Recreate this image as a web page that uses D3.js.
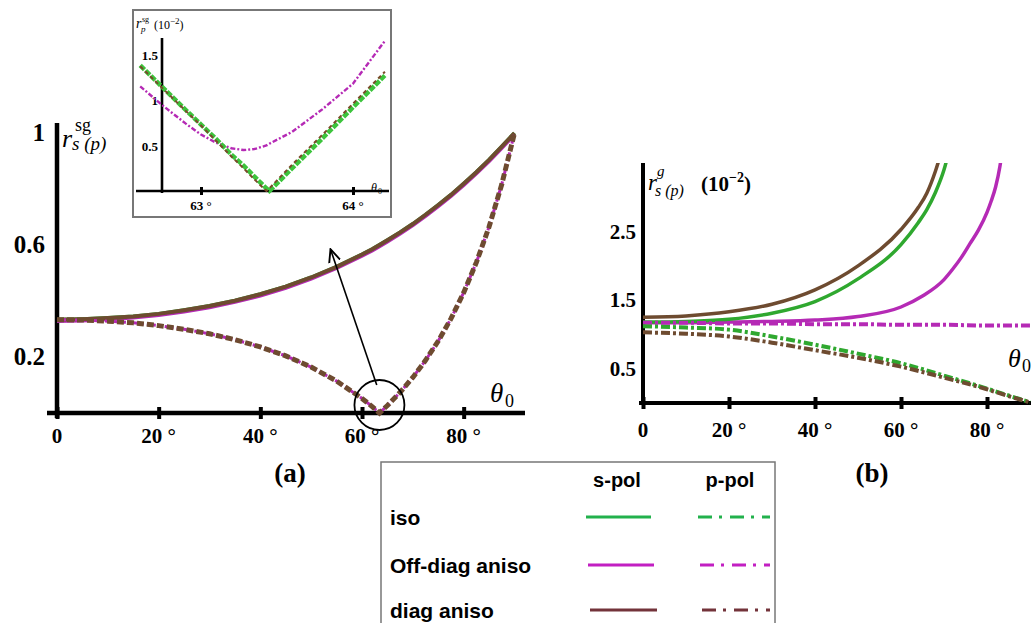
<!DOCTYPE html>
<html>
<head>
<meta charset="utf-8">
<script src="https://cdn.jsdelivr.net/npm/d3@7"></script>
<style>body{margin:0;background:#fff}</style>
</head>
<body>
<svg width="1034" height="623"></svg>
<script>
// panel (a): reflection amplitude vs incidence angle
const thetaA = [0,5,10,15,20,25,30,35,40,45,50,55,60,62,63.43,65,67.5,70,72.5,75,77.5,80,82.5,85,87.5,90];
const rsA = [0.333,0.335,0.339,0.345,0.354,0.367,0.382,0.401,0.424,0.451,0.484,0.522,0.566,0.585,0.600,0.617,0.645,0.675,0.708,0.743,0.779,0.819,0.860,0.904,0.951,1.0];
const rpA = [0.333,0.332,0.328,0.322,0.312,0.299,0.283,0.262,0.236,0.204,0.164,0.114,0.052,0.023,0.0,0.027,0.074,0.127,0.188,0.257,0.337,0.430,0.538,0.665,0.817,1.0];
const xTicksA = [0,20,40,60,80];
const yTicksA = [0.2,0.6,1];

// inset: r_p near the Brewster angle (10^-2)
const thetaIn = [62.6,62.74,62.9,63.0,63.1,63.2,63.28,63.35,63.43,63.45,63.6,63.8,64.0,64.21];
const isoIn  = [1.38,1.15,0.89,0.73,0.57,0.40,0.28,0.16,0.03,0.0,0.25,0.58,0.92,1.27];
const diagIn = [1.37,1.14,0.88,0.72,0.55,0.38,0.25,0.13,0.0,0.03,0.29,0.62,0.96,1.31];
const offIn  = [1.15,0.95,0.74,0.62,0.53,0.47,0.45,0.46,0.50,0.52,0.65,0.90,1.18,1.65];
const xTicksIn = [63,64];
const yTicksIn = [0.5,1,1.5];

// panel (b): values in units of 10^-2
const thetaIsoS = [0,10,20,30,40,50,60,64,66,68,70,72];
const isoS = [1.18,1.19,1.22,1.31,1.48,1.81,2.31,2.63,2.82,3.07,3.40,3.90];
const thetaDiagS = [0,10,20,30,40,50,60,64,66,68,70];
const diagS = [1.25,1.27,1.33,1.44,1.65,2.00,2.53,2.85,3.06,3.38,3.80];
const thetaOffS = [0,10,20,30,40,50,60,65,70,72,74,76,78,80,81,82,83,84];
const offS = [1.17,1.17,1.18,1.19,1.21,1.26,1.40,1.56,1.80,1.95,2.12,2.32,2.52,2.78,2.95,3.15,3.45,3.90];
const thetaP = [0,10,20,30,40,50,60,70,80,85,90];
const isoP  = [1.12,1.10,1.07,0.97,0.85,0.72,0.58,0.40,0.21,0.11,0.01];
const offP  = [1.17,1.17,1.16,1.16,1.15,1.15,1.14,1.14,1.13,1.13,1.13];
const diagP = [1.03,1.01,0.97,0.88,0.77,0.66,0.53,0.37,0.20,0.10,0.01];
const xTicksB = [0,20,40,60,80];
const yTicksB = [0.5,1.5,2.5];

const legendRows = ['iso','Off-diag aniso','diag aniso'];
const legendCols = ['s-pol','p-pol'];

const green = '#2fa82f', magenta = '#b52ab5', brown = '#6e4b30';
const legendColors = ['#22b14c', '#c21fc2', '#73333a'];
const serif = "'Liberation Serif', 'Times New Roman', serif";
const sans = "'Liberation Sans', Arial, sans-serif";
const dashDot = '9,3,3,3';

const svg = d3.select('svg');
const fmtDeg = d => d === 0 ? '0' : d + ' \u00b0';

function zip(xs, ys) { return xs.map((t, i) => [t, ys[i]]); }

function crossAxis(g, scale, ticks, orient, size, width) {
    const ax = (orient === 'bottom' ? d3.axisBottom(scale) : d3.axisLeft(scale))
        .tickValues(ticks).tickSize(size).tickPadding(0).tickFormat('');
    g.call(ax);
    g.select('.domain').remove();
    g.selectAll('.tick line')
        .attr(orient === 'bottom' ? 'y1' : 'x1', -size)
        .attr('stroke', '#000').attr('stroke-width', width);
}

// ---------- panel (a) ----------
const xA = d3.scaleLinear().domain([0, 90]).range([57, 514.5]);
const yA = d3.scaleLinear().domain([0, 1]).range([413, 133]);
const lineA = d3.line().x(d => xA(d[0])).y(d => yA(d[1]));

svg.append('line').attr('x1', 47).attr('x2', 525).attr('y1', yA(0)).attr('y2', yA(0))
    .attr('stroke', '#000').attr('stroke-width', 4.5);
svg.append('line').attr('x1', xA(0)).attr('x2', xA(0)).attr('y1', 418).attr('y2', 123)
    .attr('stroke', '#000').attr('stroke-width', 4.5);
crossAxis(svg.append('g').attr('transform', `translate(0,${yA(0)})`), xA, xTicksA, 'bottom', 6, 4);
crossAxis(svg.append('g').attr('transform', `translate(${xA(0)},0)`), yA, yTicksA, 'left', 7, 4);

svg.selectAll('.xla').data(xTicksA).join('text')
    .attr('x', d => xA(d)).attr('y', 443).attr('text-anchor', 'middle')
    .style('font-family', serif).style('font-weight', 'bold').style('font-size', '21px')
    .text(fmtDeg);
svg.selectAll('.yla').data(yTicksA).join('text')
    .attr('x', 45).attr('y', d => yA(d) + 8).attr('text-anchor', 'end')
    .style('font-family', serif).style('font-weight', 'bold').style('font-size', '25px')
    .text(d => d);

// s-pol (solid), all three nearly overlap
const sA = zip(thetaA, rsA), pA = zip(thetaA, rpA);
svg.append('path').attr('d', lineA(sA)).attr('fill', 'none').attr('stroke', green).attr('stroke-width', 4);
svg.append('path').attr('d', lineA(sA)).attr('fill', 'none').attr('stroke', magenta).attr('stroke-width', 4)
    .attr('transform', 'translate(0,1.2)');
svg.append('path').attr('d', lineA(sA)).attr('fill', 'none').attr('stroke', brown).attr('stroke-width', 4);
// p-pol (dash-dot)
svg.append('path').attr('d', lineA(pA)).attr('fill', 'none').attr('stroke', magenta).attr('stroke-width', 3)
    .attr('stroke-dasharray', dashDot);
svg.append('path').attr('d', lineA(pA)).attr('fill', 'none').attr('stroke', brown).attr('stroke-width', 5)
    .attr('stroke-dasharray', '7,3');

// axis titles (a)
svg.append('text').attr('x', 62).attr('y', 147)
    .style('font-family', serif).style('font-style', 'italic').style('font-size', '26px').text('r');
svg.append('text').attr('x', 75).attr('y', 131)
    .style('font-family', serif).style('font-size', '18px').text('sg');
svg.append('text').attr('x', 72).attr('y', 150)
    .style('font-family', serif).style('font-style', 'italic').style('font-size', '19px').text('s (p)');
svg.append('text').attr('x', 490).attr('y', 402)
    .style('font-family', serif).style('font-style', 'italic').style('font-size', '27px').text('\u03b8');
svg.append('text').attr('x', 505).attr('y', 407)
    .style('font-family', serif).style('font-size', '18px').text('0');
svg.append('text').attr('x', 290).attr('y', 482).attr('text-anchor', 'middle')
    .style('font-family', serif).style('font-weight', 'bold').style('font-size', '27px').text('(a)');

// circle around Brewster minimum and arrow to inset
svg.append('defs').append('marker').attr('id', 'arr').attr('viewBox', '0 0 10 10')
    .attr('refX', 9).attr('refY', 5).attr('markerWidth', 9).attr('markerHeight', 9)
    .attr('orient', 'auto-start-reverse')
    .append('path').attr('d', 'M0,1 L9,5 L0,9').attr('fill', 'none').attr('stroke', '#000').attr('stroke-width', 1.3);
svg.append('circle').attr('cx', xA(63.43)).attr('cy', yA(0) - 8).attr('r', 25)
    .attr('fill', 'none').attr('stroke', '#000').attr('stroke-width', 1.8);
svg.append('line').attr('x1', xA(62.9)).attr('y1', yA(0.1)).attr('x2', xA(53.8)).attr('y2', yA(0.585))
    .attr('stroke', '#000').attr('stroke-width', 1.6).attr('marker-end', 'url(#arr)');

// ---------- inset ----------
svg.append('rect').attr('x', 133).attr('y', 10).attr('width', 258).attr('height', 207)
    .attr('fill', '#fff').attr('stroke', '#777').attr('stroke-width', 2);
const xI = d3.scaleLinear().domain([63, 64]).range([201, 353]);
const yI = d3.scaleLinear().domain([0, 1.5]).range([191, 54.5]);
const lineI = d3.line().x(d => xI(d[0])).y(d => yI(d[1]));
svg.append('line').attr('x1', 136).attr('x2', 389).attr('y1', yI(0)).attr('y2', yI(0))
    .attr('stroke', '#000').attr('stroke-width', 2.6);
svg.append('line').attr('x1', 162).attr('x2', 162).attr('y1', 193).attr('y2', 38)
    .attr('stroke', '#000').attr('stroke-width', 2.6);
crossAxis(svg.append('g').attr('transform', `translate(0,${yI(0)})`), xI, xTicksIn, 'bottom', 4, 3);
crossAxis(svg.append('g').attr('transform', 'translate(162,0)'), yI, yTicksIn, 'left', 4, 2.5);
svg.selectAll('.xli').data(xTicksIn).join('text')
    .attr('x', d => xI(d)).attr('y', 210).attr('text-anchor', 'middle')
    .style('font-family', serif).style('font-weight', 'bold').style('font-size', '13px')
    .text(fmtDeg);
svg.selectAll('.yli').data(yTicksIn).join('text')
    .attr('x', 158).attr('y', d => yI(d) + 5).attr('text-anchor', 'end')
    .style('font-family', serif).style('font-weight', 'bold').style('font-size', '13px')
    .text(d => d);
svg.append('path').attr('d', lineI(zip(thetaIn, offIn))).attr('fill', 'none').attr('stroke', magenta)
    .attr('stroke-width', 2.4).attr('stroke-dasharray', '5,2,2,2');
svg.append('path').attr('d', lineI(zip(thetaIn, isoIn))).attr('fill', 'none').attr('stroke', '#3cc43c')
    .attr('stroke-width', 4.5).attr('stroke-dasharray', '6,1.5');
svg.append('path').attr('d', lineI(zip(thetaIn, diagIn))).attr('fill', 'none').attr('stroke', '#7a4a2a')
    .attr('stroke-width', 2).attr('stroke-dasharray', '4,3');
svg.append('text').attr('x', 136).attr('y', 28)
    .style('font-family', serif).style('font-style', 'italic').style('font-size', '14px').text('r');
svg.append('text').attr('x', 142).attr('y', 22)
    .style('font-family', serif).style('font-size', '8px').text('sg');
svg.append('text').attr('x', 141).attr('y', 32)
    .style('font-family', serif).style('font-style', 'italic').style('font-size', '9px').text('p');
const tIn = svg.append('text').attr('x', 154).attr('y', 29)
    .style('font-family', serif).style('font-size', '12px').text('(10');
tIn.append('tspan').attr('dy', -5).style('font-size', '9px').text('\u22122');
tIn.append('tspan').attr('dy', 5).text(')');
svg.append('text').attr('x', 371).attr('y', 192)
    .style('font-family', serif).style('font-style', 'italic').style('font-size', '12px').text('\u03b8');
svg.append('text').attr('x', 378).attr('y', 194)
    .style('font-family', serif).style('font-size', '8px').text('0');

// ---------- panel (b) ----------
const xB = d3.scaleLinear().domain([0, 90]).range([643, 1030]);
const yB = d3.scaleLinear().domain([0, 3.5]).range([403, 163]);
const lineB = d3.line().x(d => xB(d[0])).y(d => yB(d[1])).curve(d3.curveMonotoneX);

svg.append('clipPath').attr('id', 'clipB').append('rect')
    .attr('x', 630).attr('y', yB(3.5)).attr('width', 404).attr('height', 260);

svg.append('line').attr('x1', 639).attr('x2', 1031).attr('y1', yB(0)).attr('y2', yB(0))
    .attr('stroke', '#000').attr('stroke-width', 4);
svg.append('line').attr('x1', xB(0)).attr('x2', xB(0)).attr('y1', 405).attr('y2', 163)
    .attr('stroke', '#000').attr('stroke-width', 4);
crossAxis(svg.append('g').attr('transform', `translate(0,${yB(0)})`), xB, xTicksB, 'bottom', 6, 4);
crossAxis(svg.append('g').attr('transform', `translate(${xB(0)},0)`), yB, yTicksB, 'left', 6, 4);
svg.selectAll('.xlb').data(xTicksB).join('text')
    .attr('x', d => xB(d)).attr('y', 437).attr('text-anchor', 'middle')
    .style('font-family', serif).style('font-weight', 'bold').style('font-size', '21px')
    .text(fmtDeg);
svg.selectAll('.ylb').data(yTicksB).join('text')
    .attr('x', 636).attr('y', d => yB(d) + 7).attr('text-anchor', 'end')
    .style('font-family', serif).style('font-weight', 'bold').style('font-size', '21px')
    .text(d => d);

const gB = svg.append('g').attr('clip-path', 'url(#clipB)');
const solidB = [[thetaOffS, offS, magenta], [thetaIsoS, isoS, green], [thetaDiagS, diagS, brown]];
solidB.forEach(([t, v, c]) => gB.append('path').attr('d', lineB(zip(t, v)))
    .attr('fill', 'none').attr('stroke', c).attr('stroke-width', 3.5));
const dashB = [[offP, magenta], [isoP, green], [diagP, brown]];
dashB.forEach(([v, c]) => gB.append('path').attr('d', lineB(zip(thetaP, v)))
    .attr('fill', 'none').attr('stroke', c).attr('stroke-width', 4).attr('stroke-dasharray', dashDot));

svg.append('text').attr('x', 648).attr('y', 190)
    .style('font-family', serif).style('font-style', 'italic').style('font-size', '23px').text('r');
svg.append('text').attr('x', 657).attr('y', 176)
    .style('font-family', serif).style('font-style', 'italic').style('font-size', '15px').text('g');
svg.append('text').attr('x', 655).attr('y', 196)
    .style('font-family', serif).style('font-style', 'italic').style('font-size', '16px').text('s (p)');
const tB = svg.append('text').attr('x', 701).attr('y', 191)
    .style('font-family', serif).style('font-weight', 'bold').style('font-size', '21px').text('(10');
tB.append('tspan').attr('dy', -9).style('font-size', '14px').text('\u22122');
tB.append('tspan').attr('dy', 9).text(')');
svg.append('text').attr('x', 1008).attr('y', 367)
    .style('font-family', serif).style('font-style', 'italic').style('font-size', '26px').text('\u03b8');
svg.append('text').attr('x', 1022).attr('y', 372)
    .style('font-family', serif).style('font-size', '18px').text('0');
svg.append('text').attr('x', 872).attr('y', 482).attr('text-anchor', 'middle')
    .style('font-family', serif).style('font-weight', 'bold').style('font-size', '27px').text('(b)');

// ---------- legend ----------
svg.append('rect').attr('x', 381).attr('y', 462).attr('width', 394).attr('height', 170)
    .attr('fill', '#fff').attr('stroke', '#777').attr('stroke-width', 1.5);
const colX = [617, 730];
const rowY = [517, 565, 610];
svg.selectAll('.lch').data(legendCols).join('text')
    .attr('x', (d, i) => colX[i]).attr('y', 487).attr('text-anchor', 'middle')
    .style('font-family', sans).style('font-weight', 'bold').style('font-size', '20px')
    .text(d => d);
svg.selectAll('.lrow').data(legendRows).join('text')
    .attr('x', 390).attr('y', (d, i) => rowY[i] + 8)
    .style('font-family', sans).style('font-weight', 'bold').style('font-size', '21px')
    .text(d => d);
legendRows.forEach((r, i) => {
    svg.append('line').attr('x1', 586 + i * 2).attr('x2', 651 + i * 3).attr('y1', rowY[i]).attr('y2', rowY[i])
        .attr('stroke', legendColors[i]).attr('stroke-width', 3);
    svg.append('line').attr('x1', 698 + i * 2).attr('x2', 770).attr('y1', rowY[i]).attr('y2', rowY[i])
        .attr('stroke', legendColors[i]).attr('stroke-width', 3).attr('stroke-dasharray', '14,7,3,8');
});
</script>
</body>
</html>
